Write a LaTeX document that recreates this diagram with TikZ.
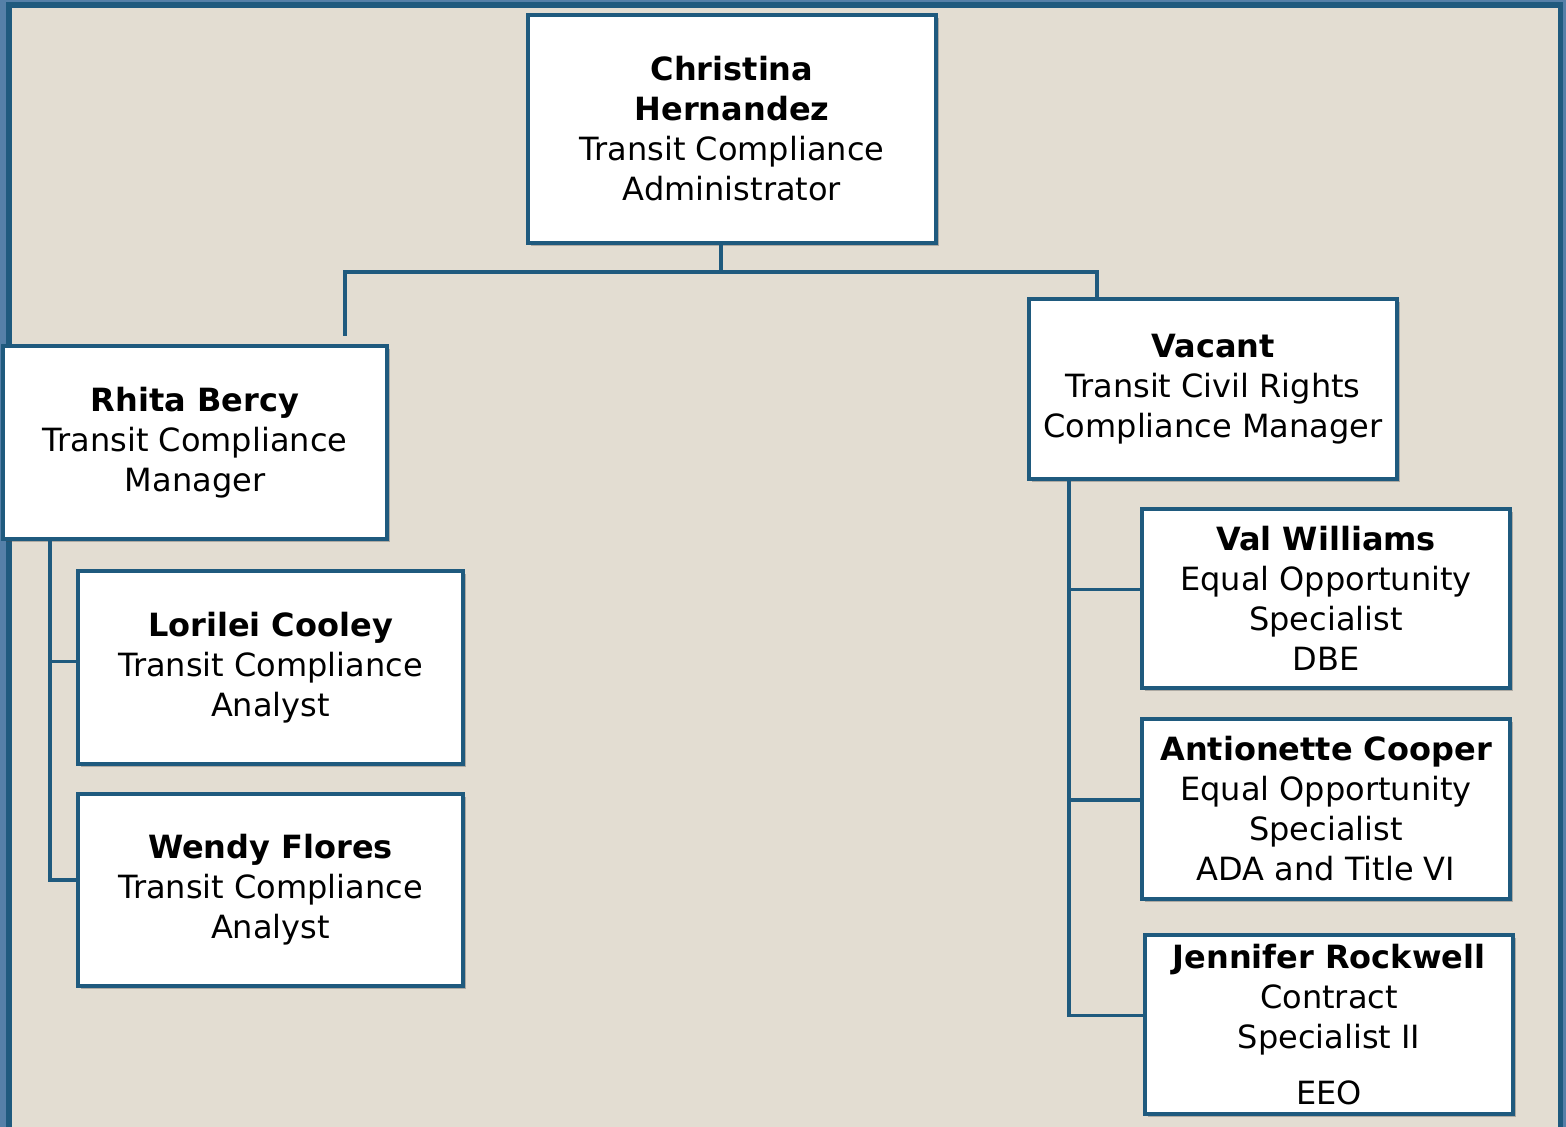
\documentclass[tikz,border=0pt]{standalone}
\usepackage{fontspec}
\setmainfont{DejaVu Sans}
\usepackage{xcolor}
\usepackage{tikz}
\usetikzlibrary{shadows}
\definecolor{framelight}{HTML}{5580A8}
\definecolor{framedark}{HTML}{1F5A7E}
\definecolor{paperbeige}{HTML}{E3DDD2}
\tikzset{
  orgbox/.style={draw=framedark,line width=2pt,fill=white,inner sep=2pt,align=center,font=\fontsize{16}{20}\selectfont,
    drop shadow={shadow xshift=1.5pt,shadow yshift=-1.5pt,opacity=.35,fill=black!70}},
  orgline/.style={draw=framedark,line width=1.8pt},
}
\begin{document}
\begin{tikzpicture}[x=0.5pt,y=-0.5pt]
    \useasboundingbox (0,0) rectangle (1566,1127);
    \fill[framelight] (0,0) rectangle (1566,1127);
    \fill[framedark] (6,2.5) rectangle (1563,1127);
    \fill[paperbeige] (12,8) rectangle (1558,1127);
    \node[orgbox,minimum width=204pt,minimum height=114pt] (chris) at (732,129) {\textbf{Christina}\\\textbf{Hernandez}\\Transit Compliance\\Administrator};
    \node[orgbox,minimum width=192pt,minimum height=96.5pt] (rhita) at (195,442.5) {\textbf{Rhita Bercy}\\Transit Compliance\\Manager};
    \node[orgbox,minimum width=192.5pt,minimum height=96.5pt] (lorilei) at (270.5,667.5) {\textbf{Lorilei Cooley}\\Transit Compliance\\Analyst};
    \node[orgbox,minimum width=192.5pt,minimum height=96pt] (wendy) at (270.5,890) {\textbf{Wendy Flores}\\Transit Compliance\\Analyst};
    \node[orgbox,minimum width=184pt,minimum height=90pt] (vacant) at (1213,389) {\textbf{Vacant}\\Transit Civil Rights\\Compliance Manager};
    \node[orgbox,minimum width=184pt,minimum height=89.5pt] (val) at (1326,598.5) {\textbf{Val Williams}\\Equal Opportunity\\Specialist\\DBE};
    \node[orgbox,minimum width=184pt,minimum height=90pt] (antionette) at (1326,809) {\textbf{Antionette Cooper}\\Equal Opportunity\\Specialist\\ADA and Title VI};
    \node[orgbox,minimum width=184pt,minimum height=89.5pt] (jennifer) at (1329,1024.5) {\textbf{Jennifer Rockwell}\\Contract\\Specialist II\\[8pt]EEO};
    % top bus
    \coordinate (bus) at (721,272);
    \draw[orgline] ([xshift=-5.5pt]chris.south) -- (bus);
    \draw[orgline] ([xshift=75pt,yshift=4pt]rhita.north) |- (bus) -| ([xshift=-58pt]vacant.north);
    % left branch
    \draw[orgline] ([xshift=-72.5pt]rhita.south) |- ([yshift=3pt]lorilei.west);
    \draw[orgline] ([xshift=-72.5pt]rhita.south) |- ([yshift=5pt]wendy.west);
    % right branch
    \draw[orgline] ([xshift=-72pt]vacant.south) |- ([yshift=4.5pt]val.west);
    \draw[orgline] ([xshift=-72pt]vacant.south) |- ([yshift=4.5pt]antionette.west);
    \draw[orgline] ([xshift=-72pt]vacant.south) |- ([yshift=4.5pt]jennifer.west);
  \end{tikzpicture}
\end{document}
